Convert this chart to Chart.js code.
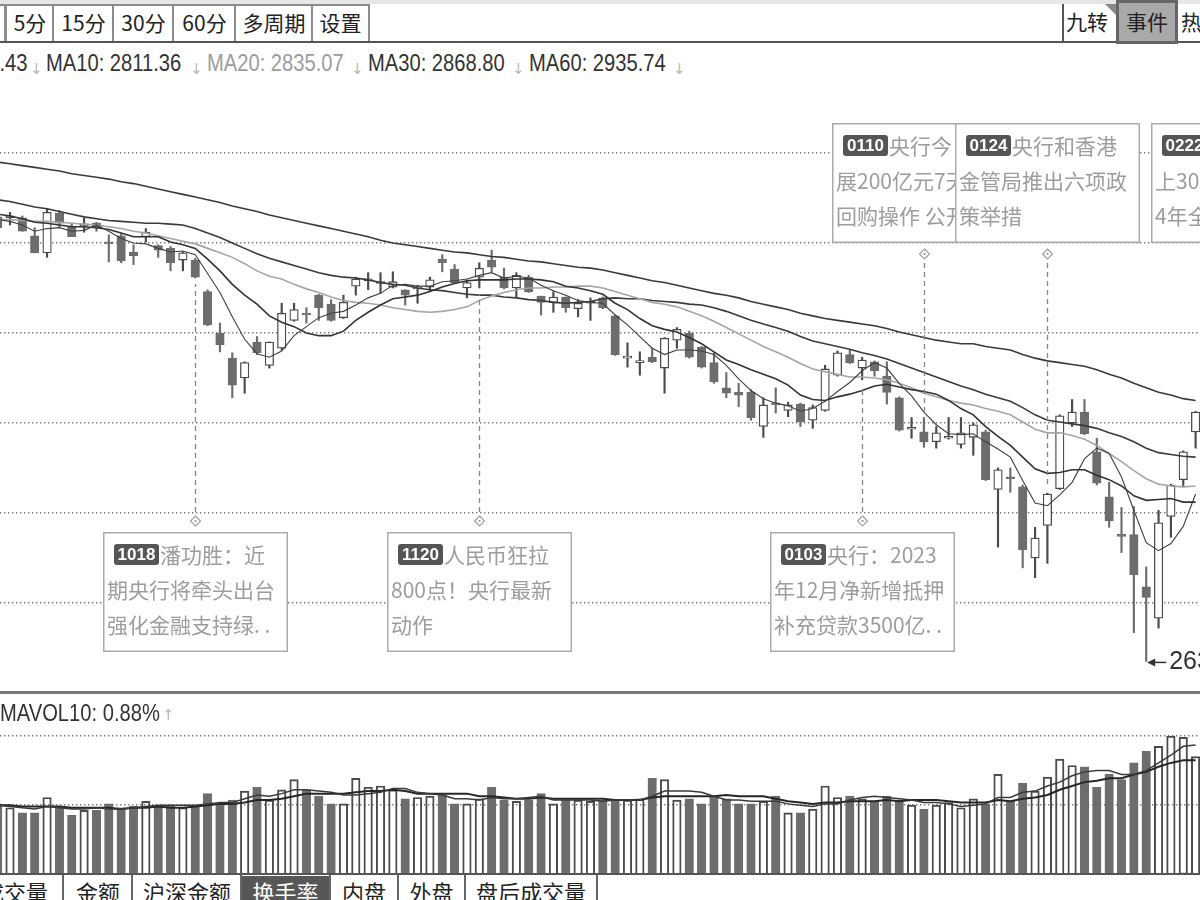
<!DOCTYPE html>
<html lang="zh-CN">
<head>
<meta charset="utf-8">
<title>K线 事件</title>
<script src="https://cdn.jsdelivr.net/npm/chart.js@4.4.1/dist/chart.umd.min.js"></script>
<style>
  html, body { margin: 0; padding: 0; background: #fff; }
  body { position: relative; width: 1200px; height: 900px; overflow: hidden;
         font-family: "Noto Sans CJK SC", "Liberation Sans", sans-serif; color: #222; }
  .a { position: absolute; white-space: nowrap; }
  .btn { position: absolute; top: 4px; height: 37px; box-sizing: border-box; border: 2px solid #8c8c8c;
         border-bottom: none; background: #fff; font-size: 21px; line-height: 33px; text-align: center; }
  .num { font-family: "Liberation Sans", Arial, sans-serif; font-size: 24px; line-height: 26px;
         transform: scaleX(0.84); transform-origin: 0 0; color: #333; }
  .arr { font-family: "DejaVu Sans", sans-serif; font-size: 15px; color: #b8b8b8; }
  .tab { position: absolute; top: 876px; height: 30px; font-size: 22px; line-height: 30px; text-align: center; }
  canvas { position: absolute; left: 0; }
</style>
</head>
<body>
<canvas id="kline" width="1200" height="602" style="top:90px"></canvas>
<canvas id="vol" width="1200" height="178" style="top:695px"></canvas>

<!-- toolbar -->
<div class="a" style="left:0;top:0;width:1200px;height:4px;background:#e6e6e6"></div>
<div class="btn" style="left:-40px;width:46px"></div>
<div class="btn" style="left:5px;width:50px">5分</div>
<div class="btn" style="left:52px;width:63px">15分</div>
<div class="btn" style="left:112px;width:63px">30分</div>
<div class="btn" style="left:172px;width:65px">60分</div>
<div class="btn" style="left:234px;width:80px">多周期</div>
<div class="btn" style="left:311px;width:59px">设置</div>
<div class="a" style="left:0;top:41px;width:1200px;height:2px;background:#555"></div>
<div class="a" style="left:1062px;top:4px;width:2px;height:38px;background:#555"></div>
<div class="a" style="left:1066px;top:5px;font-size:21px;line-height:33px">九转</div>
<div class="a" style="left:1105px;top:4px;width:0;height:0;border-left:11px solid transparent;border-top:11px solid #888"></div>
<div class="a" style="left:1116px;top:0;width:62px;height:44px;box-sizing:border-box;border:3px solid #666;background:#a9a9a9;font-size:21px;line-height:36px;text-align:center">事件</div>
<div class="a" style="left:1181px;top:5px;font-size:21px;line-height:33px">热</div>

<!-- MA legend -->
<div class="a num" style="right:1173px;top:50px;transform-origin:100% 0">MA5: 2783.43</div>
<div class="a arr" style="left:30px;top:60px">↓</div>
<div class="a num" style="left:46px;top:50px">MA10: 2811.36</div>
<div class="a arr" style="left:190px;top:60px">↓</div>
<div class="a num" style="left:207px;top:50px;color:#9c9c9c">MA20: 2835.07</div>
<div class="a arr" style="left:351px;top:60px">↓</div>
<div class="a num" style="left:368px;top:50px">MA30: 2868.80</div>
<div class="a arr" style="left:512px;top:60px">↓</div>
<div class="a num" style="left:529px;top:50px">MA60: 2935.74</div>
<div class="a arr" style="left:673px;top:60px">↓</div>

<!-- pane separators -->
<div class="a" style="left:0;top:691px;width:1200px;height:3px;background:#7a7a7a"></div>
<div class="a num" style="left:0;top:700px">MAVOL10: 0.88%</div>
<div class="a arr" style="left:162px;top:706px">↑</div>
<div class="a" style="left:0;top:873px;width:1200px;height:2px;background:#555"></div>

<!-- bottom tabs -->
<div class="tab" style="left:-20px;width:70px">成交量</div>
<div class="tab" style="left:64px;width:68px">金额</div>
<div class="tab" style="left:133px;width:108px">沪深金额</div>
<div class="tab" style="left:242px;width:87px;background:#575757;color:#fff">换手率</div>
<div class="tab" style="left:331px;width:66px">内盘</div>
<div class="tab" style="left:399px;width:65px">外盘</div>
<div class="tab" style="left:466px;width:130px">盘后成交量</div>
<div class="a" style="left:62px;top:875px;width:2px;height:25px;background:#666"></div>
<div class="a" style="left:131px;top:875px;width:2px;height:25px;background:#666"></div>
<div class="a" style="left:240px;top:875px;width:2px;height:25px;background:#666"></div>
<div class="a" style="left:329px;top:875px;width:2px;height:25px;background:#666"></div>
<div class="a" style="left:397px;top:875px;width:2px;height:25px;background:#666"></div>
<div class="a" style="left:464px;top:875px;width:2px;height:25px;background:#666"></div>
<div class="a" style="left:596px;top:875px;width:2px;height:25px;background:#666"></div>

<script>
// trading days shown (first one only partly visible)
const dates = ['0918','0919','0920','0921','0922','0925','0926','0927','0928','1009',
  '1010','1011','1012','1013','1016','1017','1018','1019','1020','1023',
  '1024','1025','1026','1027','1030','1031','1101','1102','1103','1106',
  '1107','1108','1109','1110','1113','1114','1115','1116','1117','1120',
  '1121','1122','1123','1124','1127','1128','1129','1130','1201','1204',
  '1205','1206','1207','1208','1211','1212','1213','1214','1215','1218',
  '1219','1220','1221','1222','1225','1226','1227','1228','1229','0102',
  '0103','0104','0105','0108','0109','0110','0111','0112','0115','0116',
  '0117','0118','0119','0122','0123','0124','0125','0126','0129','0130',
  '0131','0201','0202','0205','0206','0207','0208','0219'];

const open = [3129,3128,3128,3108,3089,3133,3118,3119,3122,3101,
  3108,3090,3107,3097,3094,3081,3081,3046,3000,2972,
  2950,2990,2964,2983,3014,3021,3042,3032,3017,3052,
  3058,3055,3051,3048,3049,3051,3082,3071,3050,3062,
  3081,3062,3050,3062,3041,3034,3040,3027,3033,3039,
  3019,2972,2967,2973,2961,2992,3000,2984,2967,2939,
  2934,2934,2896,2921,2914,2921,2903,2914,2953,2976,
  2961,2968,2952,2928,2893,2890,2879,2883,2876,2884,
  2890,2826,2839,2829,2750,2786,2827,2900,2912,2868,
  2818,2775,2776,2718,2683,2796,2837,2890];
const high = [3133,3134,3130,3117,3138,3136,3122,3128,3123,3109,
  3110,3098,3116,3098,3096,3090,3083,3048,3011,2978,
  2968,2996,2990,3033,3033,3028,3043,3037,3042,3062,
  3067,3067,3068,3048,3053,3062,3087,3076,3059,3078,
  3092,3072,3067,3064,3041,3046,3040,3037,3039,3040,
  3020,2989,2979,2983,2995,3006,3002,2985,2978,2956,
  2944,2937,2928,2939,2923,2922,2920,2964,2980,2981,
  2973,2969,2968,2929,2906,2906,2896,2906,2906,2900,
  2892,2850,2850,2831,2784,2822,2909,2926,2926,2883,
  2834,2806,2807,2740,2803,2832,2869,2913];
const low = [3114,3120,3113,3089,3084,3117,3107,3112,3113,3079,
  3078,3076,3101,3084,3069,3069,3061,3008,2979,2928,
  2933,2976,2961,2981,3013,3011,3014,3013,3016,3042,
  3048,3044,3050,3031,3033,3046,3068,3055,3039,3050,
  3068,3049,3040,3045,3020,3023,3023,3018,3014,3027,
  2975,2962,2953,2967,2933,2983,2972,2961,2944,2928,
  2918,2903,2884,2911,2907,2896,2894,2913,2952,2966,
  2948,2952,2921,2891,2883,2873,2872,2882,2872,2864,
  2836,2762,2823,2739,2728,2744,2826,2896,2887,2831,
  2784,2756,2667,2635,2672,2773,2829,2872];
const close = [3117,3129,3113,3089,3134,3122,3107,3120,3117,3099,
  3080,3086,3112,3092,3078,3089,3062,3009,2987,2942,
  2967,2978,2990,3022,3026,3020,3028,3014,3034,3060,
  3059,3056,3057,3042,3050,3059,3078,3056,3056,3072,
  3073,3050,3064,3046,3034,3040,3028,3033,3034,3028,
  2976,2973,2968,2968,2994,3004,2973,2962,2946,2933,
  2931,2906,2920,2920,2920,2901,2917,2960,2978,2967,
  2970,2958,2934,2892,2895,2879,2889,2884,2889,2898,
  2837,2848,2838,2759,2772,2821,2908,2912,2888,2833,
  2791,2774,2731,2706,2789,2831,2868,2912];

const ma5 = [3126,3124,3120,3113,3116,3117,3113,3114,3120,3113,
  3105,3100,3099,3094,3090,3091,3087,3066,3045,3018,
  2993,2977,2973,2980,2997,3007,3017,3022,3024,3031,
  3039,3044,3053,3054,3052,3052,3057,3058,3060,3064,
  3067,3061,3063,3061,3053,3047,3042,3036,3034,3033,
  3020,3009,2996,2983,2976,2981,2981,2980,2976,2964,
  2949,2936,2927,2922,2919,2913,2916,2924,2935,2945,
  2958,2967,2961,2944,2930,2912,2898,2888,2887,2888,
  2879,2871,2862,2836,2811,2808,2820,2834,2860,2872,
  2866,2840,2803,2767,2758,2766,2785,2821];
const ma10 = [3132,3130,3127,3123,3122,3120,3118,3118,3117,3115,
  3111,3107,3107,3107,3101,3098,3094,3082,3069,3054,
  3042,3032,3019,3012,3007,3000,2997,2997,3002,3014,
  3023,3031,3038,3040,3042,3046,3051,3055,3058,3059,
  3059,3059,3060,3060,3059,3057,3052,3050,3047,3043,
  3033,3026,3016,3008,3004,3001,2995,2988,2979,2970,
  2965,2959,2954,2949,2942,2931,2926,2925,2929,2932,
  2936,2941,2943,2940,2937,2935,2932,2925,2916,2909,
  2896,2885,2875,2862,2849,2844,2845,2848,2848,2842,
  2837,2830,2819,2814,2815,2816,2812,2812];
const ma20 = [3126,3126,3125,3124,3124,3123,3122,3121,3120,3118,
  3116,3113,3111,3108,3105,3102,3099,3094,3089,3084,
  3077,3069,3063,3060,3054,3049,3045,3040,3036,3034,
  3033,3031,3028,3026,3024,3023,3024,3026,3029,3036,
  3041,3045,3048,3050,3050,3051,3051,3052,3052,3050,
  3046,3042,3038,3034,3032,3029,3024,3019,3013,3006,
  2999,2992,2985,2979,2973,2966,2960,2957,2954,2951,
  2951,2950,2948,2944,2939,2933,2929,2925,2922,2920,
  2916,2913,2909,2901,2893,2889,2889,2886,2882,2875,
  2866,2857,2847,2838,2832,2830,2829,2830];
const ma30 = [3148,3146,3143,3140,3138,3135,3132,3129,3127,3125,
  3124,3123,3122,3122,3121,3120,3116,3111,3106,3100,
  3094,3088,3083,3079,3075,3071,3067,3064,3062,3061,
  3059,3056,3054,3053,3050,3048,3047,3045,3043,3042,
  3042,3040,3039,3037,3036,3034,3033,3034,3035,3038,
  3039,3038,3038,3036,3035,3034,3032,3031,3028,3024,
  3019,3014,3010,3006,3002,2996,2991,2988,2985,2982,
  2978,2975,2971,2966,2961,2956,2951,2946,2941,2937,
  2932,2928,2924,2917,2909,2903,2901,2899,2897,2894,
  2889,2885,2879,2872,2867,2865,2863,2862];
const ma60 = [3190,3188,3186,3184,3182,3180,3177,3175,3173,3171,
  3168,3166,3163,3160,3157,3154,3151,3148,3145,3141,
  3138,3135,3131,3128,3125,3122,3119,3116,3113,3110,
  3107,3103,3100,3098,3096,3094,3092,3090,3089,3087,
  3085,3084,3082,3080,3079,3077,3075,3073,3072,3070,
  3067,3064,3061,3058,3056,3053,3050,3047,3044,3042,
  3039,3035,3032,3029,3026,3022,3019,3016,3014,3012,
  3010,3008,3005,3001,2998,2995,2992,2990,2988,2988,
  2985,2983,2981,2976,2972,2969,2967,2965,2963,2959,
  2954,2950,2944,2939,2934,2931,2927,2925];

// turnover rate, %
const turnover = [0.54,0.51,0.47,0.47,0.59,0.52,0.45,0.49,0.49,0.54,
  0.51,0.52,0.56,0.52,0.53,0.51,0.53,0.62,0.54,0.57,
  0.64,0.67,0.57,0.65,0.73,0.65,0.60,0.54,0.54,0.74,
  0.67,0.68,0.65,0.58,0.59,0.60,0.61,0.54,0.54,0.58,
  0.67,0.57,0.56,0.57,0.62,0.54,0.57,0.57,0.56,0.57,
  0.56,0.57,0.58,0.74,0.73,0.57,0.58,0.54,0.60,0.58,
  0.54,0.54,0.56,0.60,0.47,0.47,0.50,0.68,0.59,0.60,
  0.58,0.56,0.60,0.57,0.53,0.50,0.53,0.55,0.51,0.58,
  0.54,0.77,0.56,0.70,0.64,0.75,0.89,0.84,0.83,0.67,
  0.77,0.73,0.86,0.95,0.99,1.07,1.06,0.91];
const mavol5 = [0.53,0.52,0.51,0.50,0.52,0.51,0.50,0.50,0.51,0.50,
  0.50,0.51,0.52,0.53,0.53,0.53,0.53,0.54,0.55,0.55,
  0.58,0.61,0.60,0.62,0.65,0.65,0.64,0.63,0.61,0.61,
  0.62,0.63,0.66,0.66,0.63,0.62,0.61,0.58,0.58,0.57,
  0.59,0.58,0.58,0.59,0.60,0.57,0.57,0.57,0.57,0.56,
  0.57,0.57,0.57,0.60,0.64,0.64,0.64,0.63,0.60,0.57,
  0.57,0.56,0.56,0.56,0.54,0.53,0.52,0.54,0.54,0.57,
  0.59,0.60,0.59,0.58,0.57,0.55,0.55,0.54,0.52,0.53,
  0.54,0.59,0.59,0.63,0.64,0.68,0.71,0.76,0.79,0.80,
  0.80,0.77,0.77,0.80,0.86,0.92,0.99,1.00];
const mavol10 = [0.53,0.53,0.52,0.52,0.52,0.52,0.51,0.51,0.51,0.51,
  0.50,0.51,0.51,0.52,0.51,0.51,0.52,0.53,0.54,0.54,
  0.55,0.57,0.57,0.58,0.60,0.62,0.62,0.62,0.62,0.63,
  0.64,0.64,0.65,0.64,0.62,0.62,0.62,0.62,0.62,0.60,
  0.60,0.59,0.58,0.58,0.59,0.58,0.58,0.58,0.58,0.58,
  0.57,0.57,0.57,0.59,0.60,0.60,0.60,0.60,0.60,0.61,
  0.60,0.60,0.60,0.58,0.56,0.55,0.54,0.55,0.55,0.56,
  0.56,0.56,0.57,0.56,0.57,0.57,0.57,0.56,0.55,0.55,
  0.55,0.57,0.56,0.58,0.59,0.61,0.65,0.68,0.71,0.72,
  0.74,0.74,0.77,0.79,0.83,0.86,0.88,0.88];

const priceGrid = [2700, 2800, 2900, 3000, 3100, 3200];
const volGrid = [0.535, 1.07];
const lowLabel = '2635.09';

// news markers; "after" = trading days past the last loaded day
const events = [
  { day: '1018', side: 'bottom', lines: ['潘功胜：近', '期央行将牵头出台', '强化金融支持绿. .'] },
  { day: '1120', side: 'bottom', lines: ['人民币狂拉', '800点！央行最新', '动作'] },
  { day: '0103', side: 'bottom', lines: ['央行：2023', '年12月净新增抵押', '补充贷款3500亿. .'] },
  { day: '0110', side: 'top', lines: ['央行今日开', '展200亿元7天逆', '回购操作 公开. .'] },
  { day: '0124', side: 'top', lines: ['央行和香港', '金管局推出六项政', '策举措'] },
  { day: '0222', side: 'top', after: 3, lines: ['沪指重回', '上3000点 202', '4年全. .'] }
];

const STEP = 12.35;                 // px between candles
const X_MIN = 0.19;
const X_MAX = X_MIN + 1200 / STEP;
const DOWN = '#6d6d6d', EDGE = '#4b4b4b';
const up = close.map((c, k) => c >= open[k]);
const pts = arr => arr.map((v, k) => ({ x: k, y: v }));

function gridAxis(min, max, ticks) {
  return {
    min, max,
    ticks: { display: false },
    grid: { color: '#7c7c7c', lineWidth: 1.4, drawTicks: false },
    border: { display: false, dash: [1.4, 2.6] },
    afterBuildTicks: s => { s.ticks = ticks.map(v => ({ value: v })); },
    afterFit: s => { s.width = 0; }
  };
}

const xAxis = { type: 'linear', display: false, offset: false, min: X_MIN, max: X_MAX };

function maLine(arr, color, width) {
  return { type: 'line', data: pts(arr), borderColor: color, borderWidth: width,
           pointRadius: 0, tension: 0, fill: false, order: 0 };
}

const BOX_W = 185, BOX_H = 120, TOP_ROW = 33, BOTTOM_ROW = 442;
const boxShift = { '0222': 10 };

const eventPlugin = {
  id: 'events',
  afterDatasetsDraw(chart) {
    const { ctx, scales: { x, y } } = chart;
    const laid = events.map(ev => {
      let k = dates.indexOf(ev.day);
      if (k < 0) k = dates.length - 1 + ev.after;
      const cx = Math.round(x.getPixelForValue(k)) + 0.5;
      const top = ev.side === 'top';
      return { ev, k, cx, top,
               bx: Math.round(cx - BOX_W / 2) + (boxShift[ev.day] || 0),
               by: top ? TOP_ROW : BOTTOM_ROW };
    });
    ctx.save();
    laid.forEach(b => {
      const dy = b.top ? b.by + BOX_H + 11 : b.by - 11;
      if (b.k < dates.length) {
        const end = b.top ? y.getPixelForValue(high[b.k]) - 6 : y.getPixelForValue(low[b.k]) + 6;
        ctx.setLineDash([5, 4]);
        ctx.strokeStyle = '#858585';
        ctx.lineWidth = 1.3;
        ctx.beginPath();
        ctx.moveTo(b.cx, b.top ? dy + 9 : dy - 9);
        ctx.lineTo(b.cx, end);
        ctx.stroke();
      }
      ctx.setLineDash([]);
      ctx.strokeStyle = '#a0a0a0';
      ctx.lineWidth = 1.2;
      ctx.beginPath();
      ctx.moveTo(b.cx, dy - 5);
      ctx.lineTo(b.cx + 5, dy);
      ctx.lineTo(b.cx, dy + 5);
      ctx.lineTo(b.cx - 5, dy);
      ctx.closePath();
      ctx.stroke();
      ctx.fillStyle = '#a0a0a0';
      ctx.fillRect(b.cx - 1, dy - 1, 2, 2);
    });

    laid.forEach(b => {
      ctx.fillStyle = '#fff';
      ctx.fillRect(b.bx, b.by, BOX_W, BOX_H);
      ctx.strokeStyle = '#ababab';
      ctx.lineWidth = 1.5;
      ctx.strokeRect(b.bx + 0.75, b.by + 0.75, BOX_W - 1.5, BOX_H - 1.5);
      ctx.save();
      ctx.beginPath();
      ctx.rect(b.bx + 2, b.by + 2, BOX_W - 4, BOX_H - 4);
      ctx.clip();
      ctx.fillStyle = '#555';
      ctx.beginPath();
      ctx.roundRect(b.bx + 11, b.by + 12, 45, 21, 3);
      ctx.fill();
      ctx.fillStyle = '#fff';
      ctx.font = 'bold 17px "Liberation Sans"';
      ctx.textAlign = 'center';
      ctx.textBaseline = 'middle';
      ctx.fillText(b.ev.day, b.bx + 33.5, b.by + 23);
      ctx.textAlign = 'left';
      ctx.fillStyle = '#9d9d9d';
      ctx.font = '21px "Noto Sans CJK SC"';
      ctx.fillText(b.ev.lines[0], b.bx + 57, b.by + 23);
      ctx.fillText(b.ev.lines[1], b.bx + 4, b.by + 58);
      ctx.fillText(b.ev.lines[2], b.bx + 4, b.by + 93);
      ctx.restore();
    });

    // lowest point marker
    const kMin = low.indexOf(Math.min(...low));
    const lx = x.getPixelForValue(kMin);
    const ly = y.getPixelForValue(low[kMin]) + 1;
    ctx.strokeStyle = '#333';
    ctx.fillStyle = '#333';
    ctx.lineWidth = 1.5;
    ctx.beginPath();
    ctx.moveTo(lx + 3, ly);
    ctx.lineTo(lx + 20, ly);
    ctx.stroke();
    ctx.beginPath();
    ctx.moveTo(lx + 1, ly);
    ctx.lineTo(lx + 9, ly - 4);
    ctx.lineTo(lx + 9, ly + 4);
    ctx.closePath();
    ctx.fill();
    ctx.font = '25px "Liberation Sans"';
    ctx.textBaseline = 'middle';
    ctx.textAlign = 'left';
    ctx.fillText(lowLabel, lx + 23, ly);
    ctx.restore();
  }
};

const common = {
  responsive: false,
  animation: false,
  devicePixelRatio: 1,
  events: [],
  layout: { padding: 0 },
  plugins: { legend: { display: false }, tooltip: { enabled: false } }
};

new Chart(document.getElementById('kline'), {
  type: 'bar',
  data: {
    datasets: [
      maLine(ma5, '#404040', 1.1),
      maLine(ma10, '#333333', 1.6),
      maLine(ma20, '#a5a5a5', 1.6),
      maLine(ma30, '#3a3a3a', 1.6),
      maLine(ma60, '#3a3a3a', 1.6),
      {
        label: 'body',
        data: open.map((o, k) => ({ x: k, y: [o, close[k]] })),
        barThickness: 8.5, grouped: false, borderSkipped: false, borderWidth: 1.3, minBarLength: 2,
        backgroundColor: c => up[c.dataIndex] ? '#ffffff' : DOWN,
        borderColor: c => up[c.dataIndex] ? EDGE : DOWN,
        order: 1
      },
      {
        label: 'wick',
        data: low.map((l, k) => ({ x: k, y: [l, high[k]] })),
        barThickness: 1.5, grouped: false, borderWidth: 0,
        backgroundColor: c => up[c.dataIndex] ? EDGE : DOWN,
        order: 2
      }
    ]
  },
  options: {
    ...common,
    scales: { x: xAxis, y: gridAxis(2601, 3270, priceGrid) }
  },
  plugins: [eventPlugin]
});

new Chart(document.getElementById('vol'), {
  type: 'bar',
  data: {
    datasets: [
      maLine(mavol5, '#3a3a3a', 1.5),
      maLine(mavol10, '#262626', 2),
      {
        label: 'turnover',
        data: pts(turnover),
        barThickness: 8.5, grouped: false, borderSkipped: 'start', borderWidth: 1.3,
        backgroundColor: c => up[c.dataIndex] ? 'rgba(255,255,255,0)' : DOWN,
        borderColor: c => up[c.dataIndex] ? EDGE : DOWN,
        order: 1
      }
    ]
  },
  options: {
    ...common,
    scales: { x: xAxis, y: gridAxis(0, 1.3906, volGrid) }
  }
});
</script>
</body>
</html>
